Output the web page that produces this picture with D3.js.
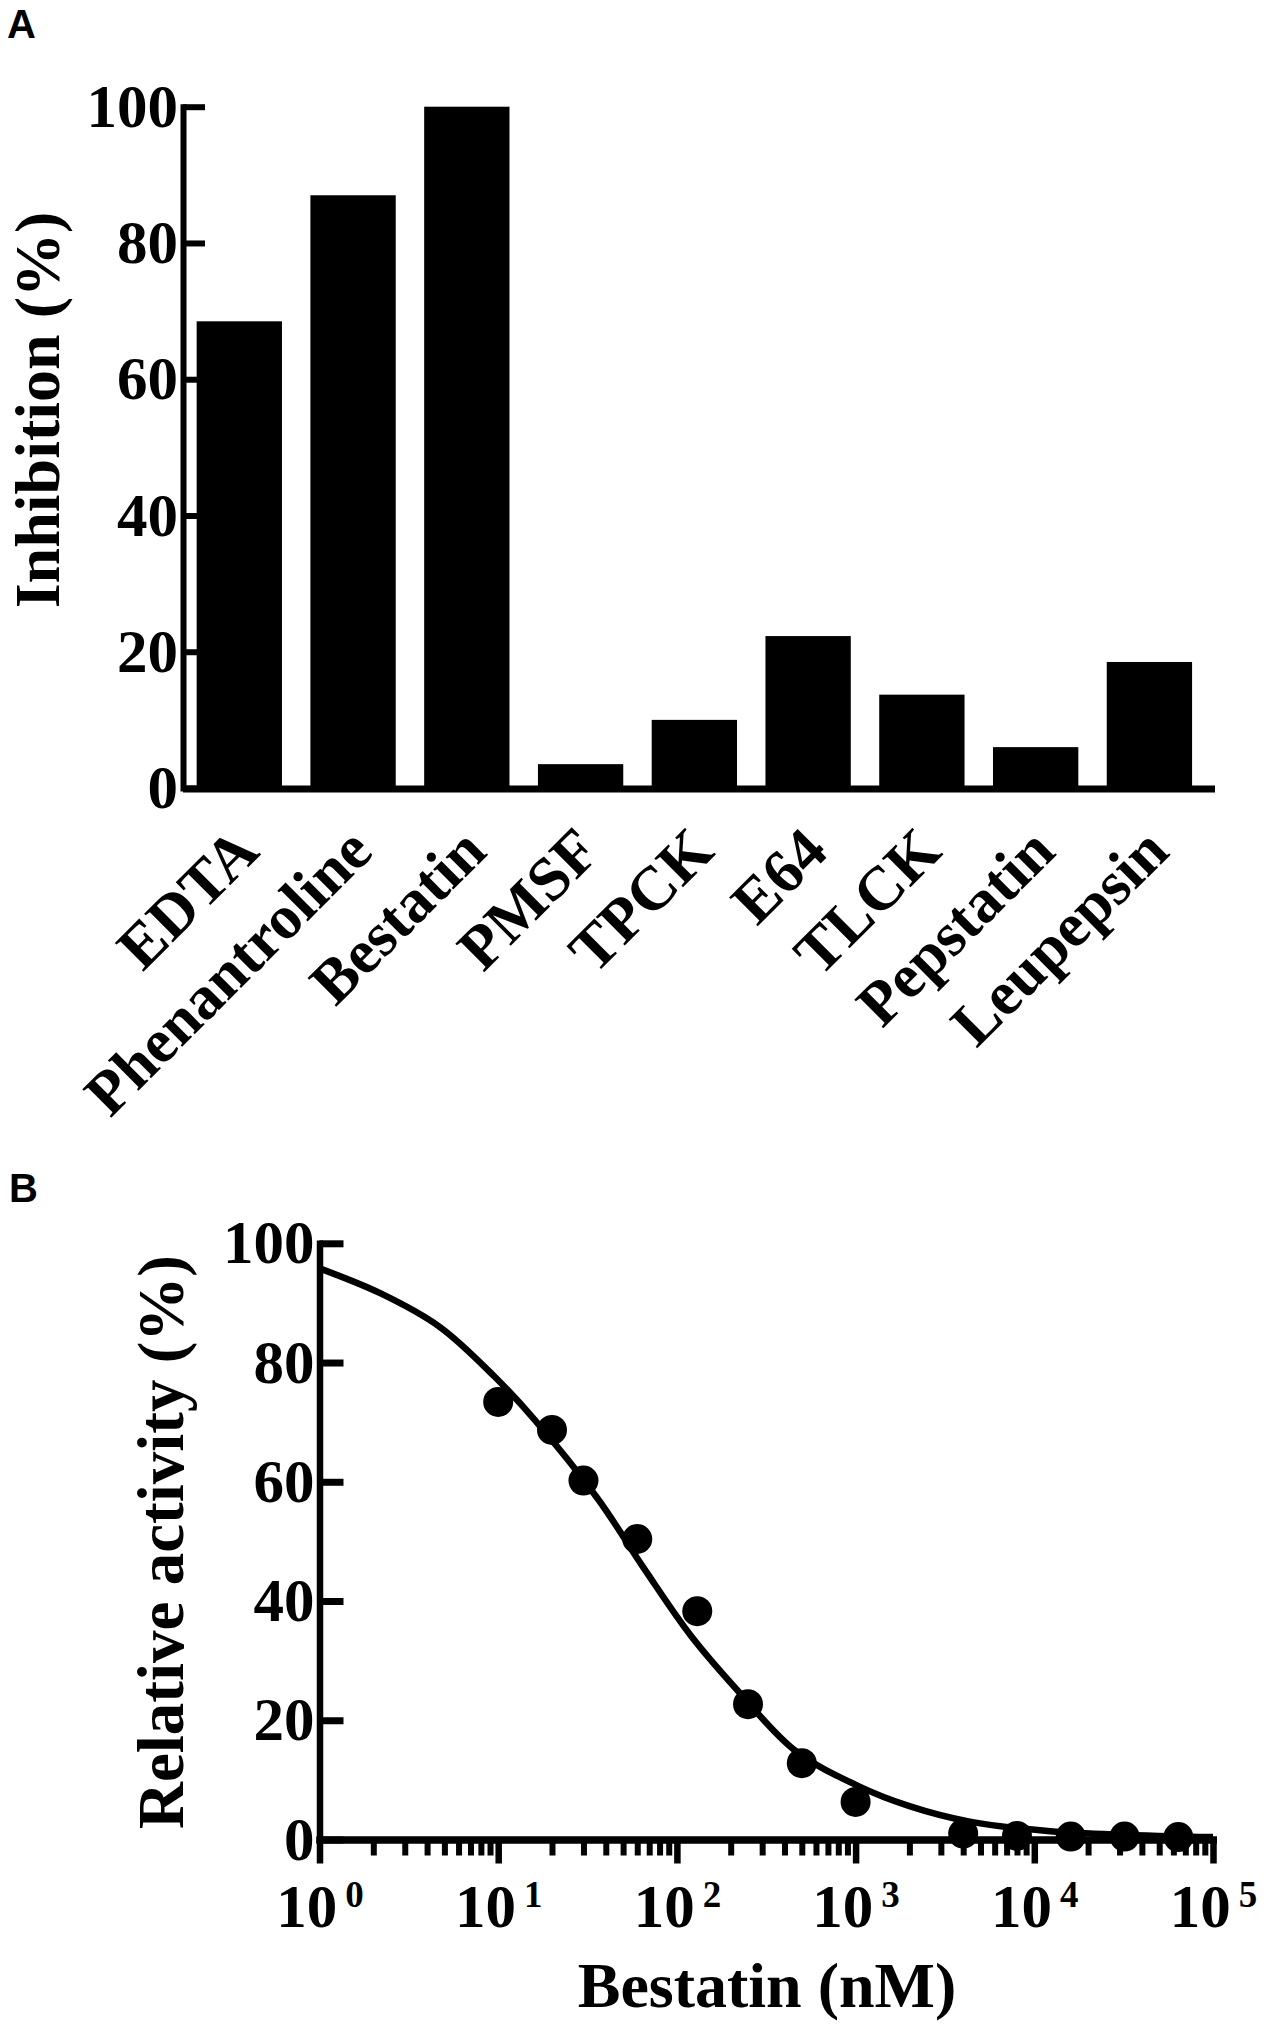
<!DOCTYPE html>
<html>
<head>
<meta charset="utf-8">
<script src="https://cdn.jsdelivr.net/npm/d3@7"></script>
<style>
  body { margin: 0; background: #fff; }
  svg { display: block; }
</style>
</head>
<body>
<script>
// Panel A: inhibitor screen
const inhibitors = ["EDTA", "Phenantroline", "Bestatin", "PMSF", "TPCK", "E64", "TLCK", "Pepstatin", "Leupepsin"];
const inhibition = [68.5, 87, 100, 3.5, 10, 22.3, 13.7, 6, 18.5];
const inhibitionTicks = [0, 20, 40, 60, 80, 100];

// Panel B: bestatin dose response
const bestatinDose = [10, 20, 30, 60, 130, 250, 500, 1000, 4000, 8000, 16000, 32000, 64000];
const relActivity = [73.4, 68.7, 60.2, 50.4, 38.3, 22.7, 12.8, 6.3, 1.0, 0.6, 0.5, 0.5, 0.4];
// fitted curve
const fitDose = [1, 2.2, 4.7, 9.5, 16, 36, 66, 121, 223, 455, 1030, 2000, 4350, 12300, 100000];
const fitActivity = [95.8, 91.6, 86.0, 77.7, 70.4, 57.2, 45.3, 34.0, 24.7, 15.0, 9.0, 5.6, 3.0, 1.4, 0.4];
const activityTicks = [0, 20, 40, 60, 80, 100];
const decadeExps = [0, 1, 2, 3, 4, 5];

const serif = "'Liberation Serif', 'Times New Roman', serif";

const svg = d3.select("body").append("svg")
  .attr("width", 1267)
  .attr("height", 2027);

function styleAxis(g, lineW, tickW) {
  g.attr("font-family", serif).attr("font-size", 61).attr("font-weight", "bold");
  g.select(".domain").attr("stroke", "#000").attr("stroke-width", lineW).attr("stroke-linecap", "square");
  g.selectAll(".tick line").attr("stroke", "#000").attr("stroke-width", tickW);
  g.selectAll(".tick text").attr("fill", "#000");
}

// ---------- Panel A ----------
svg.append("text")
  .attr("x", 7).attr("y", 38)
  .attr("font-family", "'Liberation Sans', Arial, sans-serif")
  .attr("font-weight", "bold").attr("font-size", 40)
  .text("A");

const xA = d3.scaleBand()
  .domain(inhibitors)
  .range([186, 1211])
  .paddingInner(0.25)
  .paddingOuter(0.13)
  .align(0.36);

const yA = d3.scaleLinear().domain([0, 100]).range([788, 106.7]);

svg.append("g")
  .selectAll("rect")
  .data(inhibitors)
  .join("rect")
  .attr("x", d => xA(d))
  .attr("y", (d, i) => yA(inhibition[i]))
  .attr("width", xA.bandwidth())
  .attr("height", (d, i) => yA(0) - yA(inhibition[i]))
  .attr("fill", "#000");

svg.append("g")
  .attr("transform", "translate(183,0)")
  .call(d3.axisLeft(yA).tickValues(inhibitionTicks).tickSize(-22).tickSizeOuter(0).tickPadding(5))
  .call(g => styleAxis(g, 6, 6));

svg.append("g")
  .attr("transform", "translate(0,788.5)")
  .call(d3.axisBottom(xA).tickSize(0).tickSizeOuter(0).tickFormat(() => ""))
  .call(g => styleAxis(g, 7, 0));

svg.append("g")
  .selectAll("text")
  .data(inhibitors)
  .join("text")
  .attr("transform", d => `translate(${xA(d) + xA.bandwidth() / 2 + 22},854) rotate(-45)`)
  .attr("text-anchor", "end")
  .attr("font-family", serif)
  .attr("font-weight", "bold")
  .attr("font-size", 62)
  .text(d => d);

svg.append("text")
  .attr("transform", "translate(59,410) rotate(-90)")
  .attr("text-anchor", "middle")
  .attr("font-family", serif)
  .attr("font-weight", "bold")
  .attr("font-size", 64)
  .text("Inhibition (%)");

// ---------- Panel B ----------
svg.append("text")
  .attr("x", 9).attr("y", 1202)
  .attr("font-family", "'Liberation Sans', Arial, sans-serif")
  .attr("font-weight", "bold").attr("font-size", 40)
  .text("B");

const xB = d3.scaleLog().domain([1, 1e5]).range([319.5, 1213]);
const yB = d3.scaleLinear().domain([0, 100]).range([1839.5, 1243.3]);

const majorTicks = decadeExps.map(e => Math.pow(10, e));
const minorTicks = [];
decadeExps.slice(0, -1).forEach(e => {
  for (let k = 2; k <= 9; k++) minorTicks.push(k * Math.pow(10, e));
});

svg.append("g")
  .attr("transform", "translate(0,1839.5)")
  .call(d3.axisBottom(xB).tickValues(minorTicks).tickSize(16).tickSizeOuter(0).tickFormat(() => ""))
  .call(g => styleAxis(g, 7, 6));

const xMajor = svg.append("g")
  .attr("transform", "translate(0,1839.5)")
  .call(d3.axisBottom(xB).tickValues(majorTicks).tickSize(24).tickSizeOuter(0).tickFormat(() => ""))
  .call(g => styleAxis(g, 7, 6.5));

xMajor.selectAll(".tick text").remove();
xMajor.selectAll(".tick")
  .append("text")
  .attr("y", 87)
  .attr("text-anchor", "middle")
  .attr("fill", "#000")
  .text("10")
  .append("tspan")
  .attr("dx", 8)
  .attr("dy", -20)
  .attr("font-size", 37)
  .text((d, i) => decadeExps[i]);

svg.append("g")
  .attr("transform", "translate(319.5,0)")
  .call(d3.axisLeft(yB).tickValues(activityTicks).tickSize(-24).tickSizeOuter(0).tickPadding(5))
  .call(g => styleAxis(g, 6.5, 7));

const fitLine = d3.line()
  .x(d => xB(d[0]))
  .y(d => yB(d[1]))
  .curve(d3.curveCatmullRom.alpha(0.5));

svg.append("path")
  .datum(d3.zip(fitDose, fitActivity))
  .attr("d", fitLine)
  .attr("fill", "none")
  .attr("stroke", "#000")
  .attr("stroke-width", 6.5);

svg.append("g")
  .selectAll("circle")
  .data(d3.zip(bestatinDose, relActivity))
  .join("circle")
  .attr("cx", d => xB(d[0]))
  .attr("cy", d => yB(d[1]))
  .attr("r", 15)
  .attr("fill", "#000");

svg.append("text")
  .attr("x", 767).attr("y", 2007)
  .attr("text-anchor", "middle")
  .attr("font-family", serif)
  .attr("font-weight", "bold")
  .attr("font-size", 64)
  .text("Bestatin (nM)");

svg.append("text")
  .attr("transform", "translate(183,1542) rotate(-90)")
  .attr("text-anchor", "middle")
  .attr("font-family", serif)
  .attr("font-weight", "bold")
  .attr("font-size", 65)
  .text("Relative activity (%)");
</script>
</body>
</html>
